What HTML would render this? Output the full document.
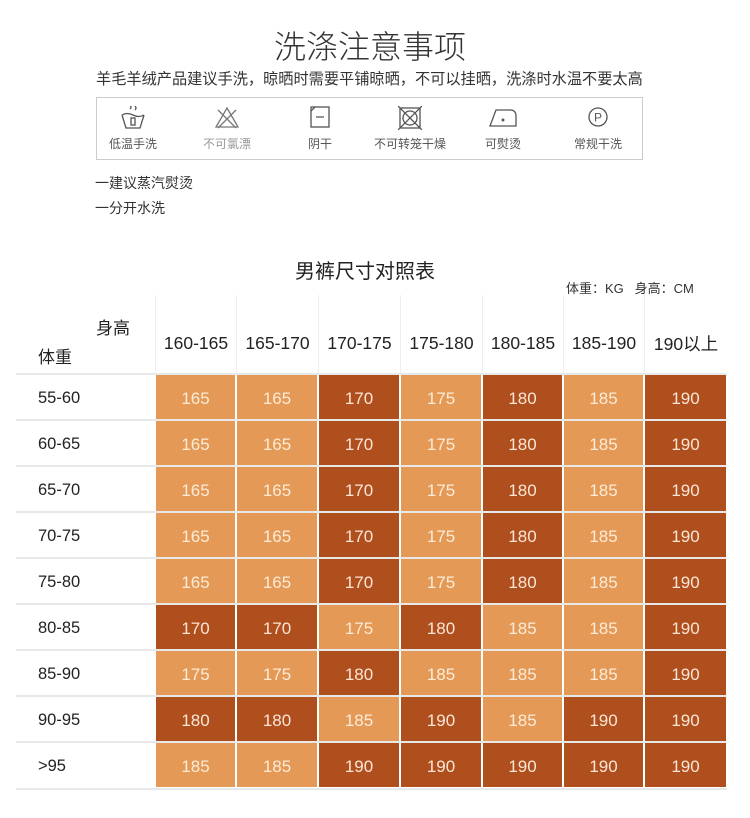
<!DOCTYPE html>
<html><head><meta charset="utf-8"><style>
body{margin:0;width:750px;height:818px;background:#fff;position:relative;overflow:hidden;font-family:"Liberation Sans","Noto Sans CJK SC",sans-serif;}
.a{position:absolute;white-space:nowrap;}
.c{position:absolute;display:flex;align-items:center;justify-content:center;font-size:17px;padding-top:3px;box-sizing:border-box;}
.L{background:#E49A56;color:#FCEBD8;}
.D{background:#B04F1E;color:#FBE6D6;}
.h{position:absolute;top:295px;height:79px;display:flex;align-items:center;justify-content:center;font-size:17.5px;color:#222;border-left:1px solid #eee;padding-top:18px;box-sizing:border-box;}
.rl{position:absolute;left:38px;font-size:16.5px;color:#222;}
.sep{position:absolute;left:16px;width:711px;height:2px;background:#e8e8e8;}
.ic{position:absolute;top:106px;}
.lb{position:absolute;top:135px;font-size:12px;color:#555;width:100px;text-align:center;}
</style></head><body>
<div class="a" style="left:0;width:740px;text-align:center;top:22px;font-size:32px;color:#333;font-weight:300;">洗涤注意事项</div>
<div class="a" style="left:96px;top:67px;font-size:15.2px;color:#333;">羊毛羊绒产品建议手洗，晾晒时需要平铺晾晒，不可以挂晒，洗涤时水温不要太高</div>
<div style="position:absolute;left:96px;top:97px;width:545px;height:61px;border:1px solid #ccc;"></div>
<svg class="ic" style="left:120px" width="26" height="24" viewBox="0 0 26 24" fill="none" stroke="#555" stroke-width="1.3"><path d="M2 9 L6 22 H20 L24 9"/><path d="M2 9 Q7 6 13 9 Q19 12 24 9"/><path d="M10 3 Q12 1 10 -1 M15 4 Q17 2 15 0"/><rect x="11" y="12" width="4" height="7"/></svg>
<svg class="ic" style="left:214px" width="26" height="24" viewBox="0 0 26 24" fill="none" stroke="#777" stroke-width="1.3"><path d="M13 2 L24 21 H2 Z"/><path d="M4 4 L22 22 M22 4 L4 22"/></svg>
<svg class="ic" style="left:309px" width="22" height="22" viewBox="0 0 22 22" fill="none" stroke="#555" stroke-width="1.3"><rect x="2" y="1" width="18" height="20"/><path d="M2 5 L6 1 M7 11 H15"/></svg>
<svg class="ic" style="left:398px" width="24" height="24" viewBox="0 0 24 24" fill="none" stroke="#555" stroke-width="1.3"><rect x="2" y="2" width="20" height="20"/><circle cx="12" cy="12" r="7"/><path d="M0 0 L24 24 M24 0 L0 24"/></svg>
<svg class="ic" style="left:488px" width="30" height="22" viewBox="0 0 30 22" fill="none" stroke="#555" stroke-width="1.3"><path d="M2 20 H28 V10 Q28 4 22 4 H8 Z"/><circle cx="15" cy="14" r="0.8" fill="#555"/></svg>
<svg class="ic" style="left:587px" width="22" height="22" viewBox="0 0 22 22" fill="none" stroke="#555" stroke-width="1.3"><circle cx="11" cy="11" r="9"/><text x="11" y="15.5" font-size="12" text-anchor="middle" fill="#555" stroke="none" font-family="Liberation Sans">P</text></svg>
<div class="lb" style="left:83px">低温手洗</div>
<div class="lb" style="left:177px;color:#999">不可氯漂</div>
<div class="lb" style="left:270px">阴干</div>
<div class="lb" style="left:360px">不可转笼干燥</div>
<div class="lb" style="left:453px">可熨烫</div>
<div class="lb" style="left:548px">常规干洗</div>
<div class="a" style="left:95px;top:173px;font-size:14px;color:#333;">一建议蒸汽熨烫</div>
<div class="a" style="left:95px;top:198px;font-size:14px;color:#333;">一分开水洗</div>
<div class="a" style="left:0;width:730px;text-align:center;top:255px;font-size:20px;color:#222;">男裤尺寸对照表</div>
<div class="a" style="left:566px;top:278px;font-size:13px;color:#333;">体重：KG&nbsp;&nbsp;&nbsp;身高：CM</div>
<div class="a" style="left:96px;top:314px;font-size:17px;color:#222;">身高</div>
<div class="a" style="left:38px;top:343px;font-size:17px;color:#222;">体重</div>
<div id="t"></div>
<script>
var xs=[155,236,318,400,482,563,644,727];
var hd=["160-165","165-170","170-175","175-180","180-185","185-190","190以上"];
var rl=["55-60","60-65","65-70","70-75","75-80","80-85","85-90","90-95",">95"];
var A="165L 165L 170D 175L 180D 185L 190D";
var g=[A,A,A,A,A,"170D 170D 175L 180D 185L 185L 190D","175L 175L 180D 185L 185L 185L 190D","180D 180D 185L 190D 185L 190D 190D","185L 185L 190D 190D 190D 190D 190D"];
var h="";
for(var j=0;j<7;j++)h+='<div class="h" style="left:'+xs[j]+'px;width:'+(xs[j+1]-xs[j])+'px">'+hd[j]+'</div>';
for(var i=0;i<9;i++){var y=374+i*46;
h+='<div class="sep" style="top:'+(y-1)+'px"></div>';
h+='<div class="rl" style="top:'+(y+15)+'px">'+rl[i]+'</div>';
var c=g[i].split(" ");
for(var j=0;j<7;j++){h+='<div class="c '+c[j].slice(3)+'" style="left:'+(xs[j]+1)+'px;top:'+(y+1)+'px;width:'+(xs[j+1]-xs[j]-2)+'px;height:44px">'+c[j].slice(0,3)+'</div>';}
}
h+='<div class="sep" style="top:788px"></div>';
document.getElementById("t").innerHTML=h;
</script>
</body></html>
